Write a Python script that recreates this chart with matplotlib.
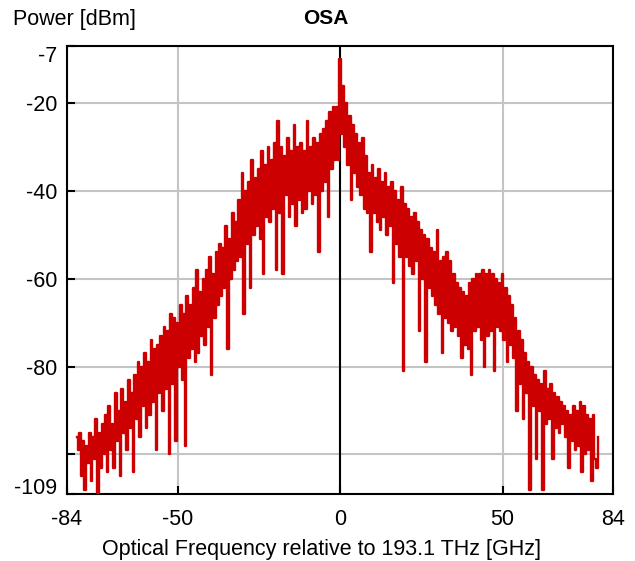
import numpy as np
import matplotlib.pyplot as plt

plt.rcParams['font.family'] = ['Liberation Sans', 'DejaVu Sans']

# OSA trace, every 0.5 GHz from -81 GHz
f_start = -81.0
f_step = 0.5
power = [
    # -81 .. -71.5
    -96, -99, -95, -105, -97, -108, -98, -102, -95, -106, -96, -101, -92, -109, -95, -103, -93, -100, -91, -104,
    # -71 .. -61.5
    -89, -99, -93, -103, -86, -97, -90, -105, -85, -95, -88, -99, -83, -94, -86, -104, -82, -92, -79, -96,
    # -61 .. -51.5
    -80, -89, -77, -94, -79, -91, -74, -88, -76, -99, -75, -86, -73, -90, -71, -85, -72, -100, -68, -84,
    # -51 .. -41.5
    -69, -97, -70, -80, -66, -83, -68, -98, -64, -78, -66, -76, -62, -79, -58, -77, -63, -73, -60, -75,
    # -41 .. -31.5
    -58, -71, -55, -82, -59, -69, -54, -66, -52, -64, -53, -62, -48, -76, -51, -60, -45, -58, -47, -56,
    # -31 .. -21.5
    -42, -55, -36, -68, -40, -52, -38, -62, -33, -50, -37, -48, -35, -51, -31, -59, -34, -46, -30, -47,
    # -21 .. -11.5
    -33, -44, -29, -58, -24, -45, -30, -59, -32, -41, -28, -46, -31, -43, -25, -48, -30, -42, -29, -45,
    # -11 .. -1.5
    -31, -44, -24, -40, -30, -43, -28, -41, -29, -54, -27, -40, -26, -38, -24, -46, -22, -35, -21, -33,
    # -1 .. 8.5
    -21, -33, -10, -27, -16, -30, -20, -34, -23, -42, -25, -36, -27, -39, -29, -41, -28, -44, -32, -45,
    # 9 .. 18.5
    -36, -54, -34, -45, -37, -47, -35, -49, -38, -46, -36, -50, -39, -48, -38, -61, -40, -52, -42, -55,
    # 19 .. 28.5
    -39, -81, -43, -55, -44, -57, -46, -59, -45, -56, -47, -72, -49, -60, -50, -79, -51, -62, -53, -64,
    # 29 .. 38.5
    -54, -66, -49, -68, -56, -77, -55, -69, -54, -70, -56, -72, -59, -71, -61, -73, -62, -78, -63, -75,
    # 39 .. 48.5
    -64, -76, -61, -82, -60, -72, -59, -71, -59, -74, -58, -80, -59, -73, -58, -72, -59, -81, -60, -71,
    # 49 .. 58.5
    -61, -72, -59, -74, -62, -79, -64, -75, -66, -78, -69, -90, -72, -84, -74, -92, -77, -86, -79, -108,
    # 59 .. 68.5
    -80, -89, -82, -101, -83, -90, -84, -108, -81, -93, -85, -92, -84, -101, -86, -94, -87, -95, -88, -93,
    # 69 .. 78.5
    -89, -96, -90, -103, -91, -97, -89, -99, -90, -98, -88, -104, -89, -100, -91, -99, -92, -106, -91, -101,
    # 79 .. 79.5
    -103, -96,
]
freq = f_start + f_step * np.arange(len(power))

x_ticks = [-84, -50, 0, 50, 84]
y_ticks = [-109, -100, -80, -60, -40, -20, -7]
y_labels = ['-109', '', '-80', '-60', '-40', '-20', '-7']

fig = plt.figure(figsize=(6.35, 5.61), dpi=100)
ax = fig.add_axes([67/635, 1-494/561, 546/635, 448/561])

# steps give the solid, vertical-stroke look of the analyser trace
ax.plot(freq, power, color='#cc0000', lw=1.7, drawstyle='steps-mid', zorder=3)
ax.axvline(0, color='black', lw=1.5, zorder=2)

ax.set_xlim(-84, 84)
ax.set_ylim(-109, -7)
ax.set_xticks(x_ticks)
ax.set_xticklabels([str(t) for t in x_ticks])
ax.set_yticks(y_ticks)
ax.set_yticklabels(y_labels)
ax.grid(True, color='#c4c4c4', lw=1.5, zorder=1)
ax.set_axisbelow(True)

ax.tick_params(direction='in', length=6, width=1.5, colors='black', labelsize=15.5)
ax.tick_params(axis='y', pad=7)
ax.tick_params(axis='x', pad=11)
labs = ax.get_yticklabels()
labs[0].set_va('baseline')
labs[-1].set_va('top')

for s in ax.spines.values():
    s.set_linewidth(1.5)
    s.set_color('black')

fig.text(13/635, 1-19/561, 'Power [dBm]', fontsize=15.5, ha='left', va='center')
fig.text(326/635, 1-19/561, 'OSA', fontsize=15, fontweight='bold', ha='center', va='center')
fig.text(322/635, 1-549/561, 'Optical Frequency relative to 193.1 THz [GHz]',
         fontsize=15.5, ha='center', va='center')

plt.savefig('out.png', dpi=100)
